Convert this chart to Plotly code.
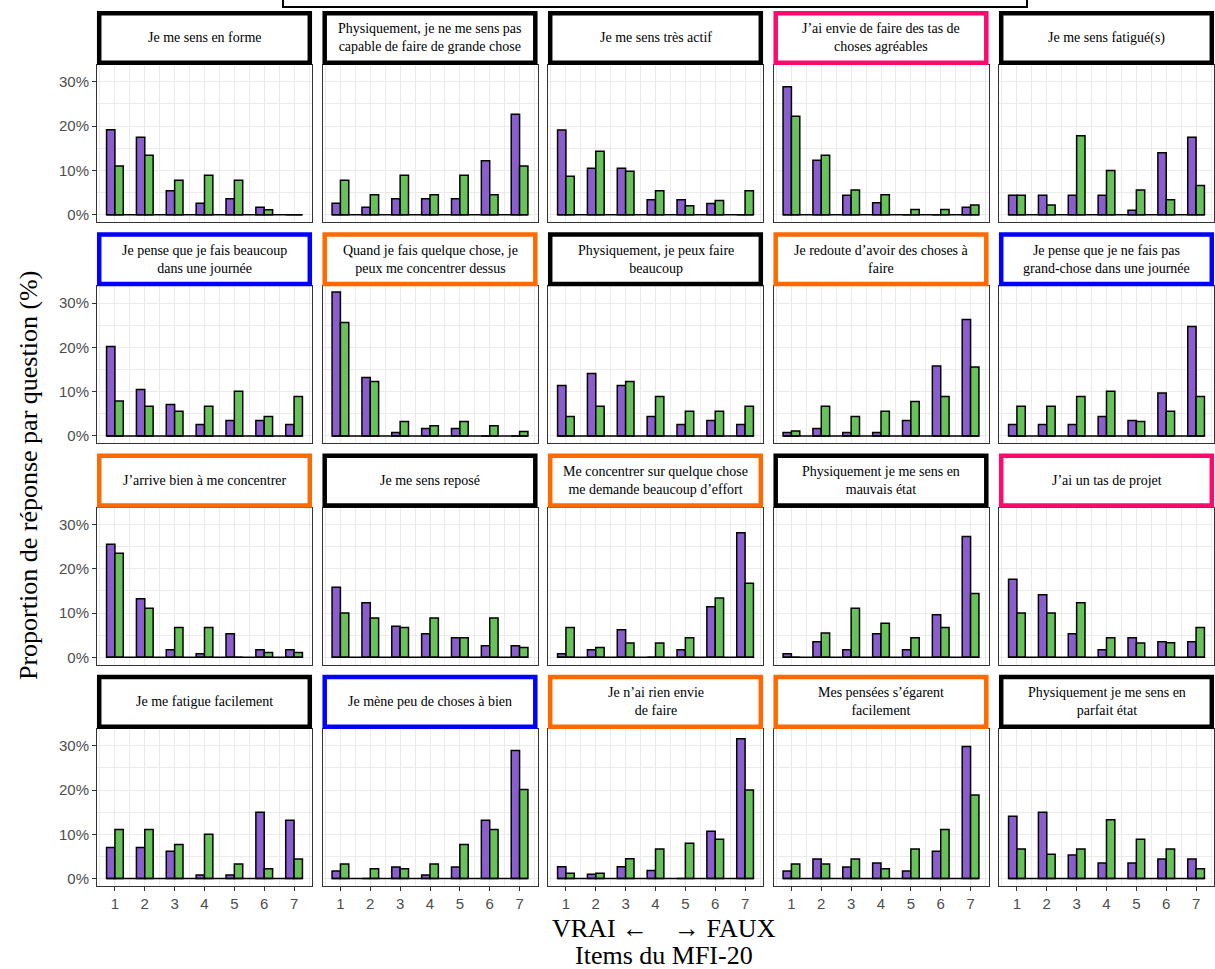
import plotly.graph_objects as go

# ---------------- data ----------------
categories = [1, 2, 3, 4, 5, 6, 7]
y_ticks = [0, 10, 20, 30]

titres = [
    "Je me sens en forme",
    "Physiquement, je ne me sens pas<br>capable de faire de grande chose",
    "Je me sens très actif",
    "J’ai envie de faire des tas de<br>choses agréables",
    "Je me sens fatigué(s)",
    "Je pense que je fais beaucoup<br>dans une journée",
    "Quand je fais quelque chose, je<br>peux me concentrer dessus",
    "Physiquement, je peux faire<br>beaucoup",
    "Je redoute d’avoir des choses à<br>faire",
    "Je pense que je ne fais pas<br>grand-chose dans une journée",
    "J’arrive bien à me concentrer",
    "Je me sens reposé",
    "Me concentrer sur quelque chose<br>me demande beaucoup d’effort",
    "Physiquement je me sens en<br>mauvais état",
    "J’ai un tas de projet",
    "Je me fatigue facilement",
    "Je mène peu de choses à bien",
    "Je n’ai rien envie<br>de faire",
    "Mes pensées s’égarent<br>facilement",
    "Physiquement je me sens en<br>parfait état",
]

NOIR, ROSE, BLEU, ORANGE = "#000000", "#ff0a6c", "#0000ff", "#ff6a00"
cadres = [
    NOIR, NOIR, NOIR, ROSE, NOIR,
    BLEU, ORANGE, NOIR, ORANGE, BLEU,
    ORANGE, NOIR, ORANGE, NOIR, ROSE,
    NOIR, BLEU, ORANGE, ORANGE, NOIR,
]

violet = [
    [19.2, 17.5, 5.4, 2.6, 3.6, 1.7, 0],
    [2.6, 1.7, 3.6, 3.6, 3.6, 12.2, 22.7],
    [19.1, 10.5, 10.5, 3.4, 3.4, 2.5, 0],
    [28.9, 12.3, 4.4, 2.7, 0, 0, 1.7],
    [4.4, 4.4, 4.4, 4.4, 1.0, 14.0, 17.5],
    [20.2, 10.5, 7.1, 2.6, 3.5, 3.5, 2.6],
    [32.5, 13.2, 0.8, 1.7, 1.7, 0, 0],
    [11.4, 14.1, 11.4, 4.4, 2.6, 3.5, 2.6],
    [0.8, 1.7, 0.8, 0.8, 3.5, 15.8, 26.3],
    [2.6, 2.6, 2.6, 4.4, 3.5, 9.7, 24.7],
    [25.5, 13.2, 1.7, 0.8, 5.3, 1.7, 1.7],
    [15.8, 12.3, 7.0, 5.3, 4.4, 2.6, 2.6],
    [0.8, 1.7, 6.2, 0, 1.7, 11.4, 28.1],
    [0.8, 3.5, 1.7, 5.3, 1.7, 9.6, 27.3],
    [17.6, 14.1, 5.3, 1.7, 4.4, 3.5, 3.5],
    [7.0, 7.0, 6.2, 0.8, 0.8, 15.0, 13.2],
    [1.7, 0, 2.6, 0.8, 2.6, 13.2, 28.9],
    [2.7, 1.0, 2.7, 1.8, 0, 10.7, 31.6],
    [1.7, 4.4, 2.6, 3.5, 1.7, 6.2, 29.8],
    [14.1, 15.0, 5.3, 3.5, 3.5, 4.4, 4.4],
]

vert = [
    [11.0, 13.4, 7.8, 8.9, 7.8, 1.1, 0],
    [7.8, 4.5, 8.9, 4.5, 8.9, 4.5, 11.0],
    [8.7, 14.3, 9.8, 5.4, 2.0, 3.2, 5.4],
    [22.2, 13.4, 5.6, 4.5, 1.2, 1.2, 2.2],
    [4.4, 2.2, 17.8, 10.0, 5.6, 3.4, 6.6],
    [7.9, 6.7, 5.6, 6.7, 10.1, 4.4, 8.9],
    [25.6, 12.3, 3.3, 2.3, 3.3, 2.3, 1.0],
    [4.4, 6.7, 12.3, 8.9, 5.6, 5.6, 6.7],
    [1.1, 6.7, 4.4, 5.6, 7.8, 8.9, 15.6],
    [6.7, 6.7, 8.9, 10.1, 3.3, 5.6, 8.9],
    [23.5, 11.1, 6.7, 6.7, 0, 1.1, 1.1],
    [10.0, 8.9, 6.7, 8.9, 4.4, 8.9, 2.2],
    [6.7, 2.2, 3.2, 3.2, 4.4, 13.4, 16.7],
    [0, 5.5, 11.1, 7.7, 4.4, 6.7, 14.4],
    [10.0, 10.0, 12.3, 4.4, 3.2, 3.3, 6.7],
    [11.1, 11.1, 7.7, 10.0, 3.3, 2.2, 4.4],
    [3.3, 2.2, 2.2, 3.3, 7.7, 11.1, 20.1],
    [1.2, 1.2, 4.5, 6.7, 8.0, 8.9, 20.0],
    [3.3, 3.3, 4.4, 2.2, 6.7, 11.1, 18.9],
    [6.7, 5.5, 6.7, 13.3, 8.9, 6.7, 2.2],
]

# ---------------- styling / layout ----------------
W, H = 1215, 969
COL_VIOLET = "#8a5fcd"
COL_VERT = "#68c25a"
SERIF = "Liberation Serif, Times New Roman, serif"
SANS = "Liberation Sans, Arial, sans-serif"

col_left = [97, 322.5, 548, 773.5, 999]
panel_w = 215
row_top = [65, 286.3, 507.6, 728.9]   # plot-area top (px)
panel_h = 157
strip_h = 54
Y_RANGE = [-1.65, 33.8]
X_RANGE = [categories[0] - 0.6, categories[-1] + 0.6]
BAR_HALF = 0.28

x_minor = [c - 0.5 for c in categories] + [categories[-1] + 0.5]
y_minor = [t + 5 for t in y_ticks[:-1]]

fig = go.Figure()
shapes = []
annotations = []

for i in range(len(titres)):
    r, c = divmod(i, 5)
    n = i + 1
    sfx = "" if n == 1 else str(n)
    xl, xr = col_left[c], col_left[c] + panel_w
    yt, yb = row_top[r], row_top[r] + panel_h

    fig.add_trace(go.Bar(
        x=categories, y=violet[i], name="violet",
        marker=dict(color=COL_VIOLET, line=dict(color="black", width=1.5)),
        xaxis="x" + sfx, yaxis="y" + sfx, showlegend=False))
    fig.add_trace(go.Bar(
        x=categories, y=vert[i], name="vert",
        marker=dict(color=COL_VERT, line=dict(color="black", width=1.5)),
        xaxis="x" + sfx, yaxis="y" + sfx, showlegend=False))

    bottom = (r == 3)
    left = (c == 0)
    fig.layout["xaxis" + sfx] = dict(
        domain=[xl / W, xr / W], anchor="y" + sfx, range=X_RANGE,
        tickmode="array", tickvals=categories,
        ticktext=[str(v) for v in categories],
        showticklabels=bottom, ticks="outside" if bottom else "",
        ticklen=4, tickcolor="#333333", tickwidth=1,
        tickfont=dict(family=SANS, size=15, color="#4d4d4d"),
        showline=True, mirror=True, linecolor="#333333", linewidth=1,
        showgrid=True, gridcolor="#ebebeb", gridwidth=1.1, zeroline=False,
        minor=dict(tickmode="array", tickvals=x_minor, showgrid=True,
                   gridcolor="#ebebeb", gridwidth=0.8, ticks=""),
        fixedrange=True)
    fig.layout["yaxis" + sfx] = dict(
        domain=[1 - yb / H, 1 - yt / H], anchor="x" + sfx, range=Y_RANGE,
        tickmode="array", tickvals=y_ticks,
        ticktext=[f"{v}%" for v in y_ticks],
        showticklabels=left, ticks="outside" if left else "",
        ticklen=4, tickcolor="#333333", tickwidth=1,
        tickfont=dict(family=SANS, size=15, color="#4d4d4d"),
        showline=True, mirror=True, linecolor="#333333", linewidth=1,
        showgrid=True, gridcolor="#ebebeb", gridwidth=1.1, zeroline=False,
        minor=dict(tickmode="array", tickvals=y_minor, showgrid=True,
                   gridcolor="#ebebeb", gridwidth=0.8, ticks=""),
        fixedrange=True)

    # black baseline under the bars
    shapes.append(dict(type="line", xref="x" + sfx, yref="y" + sfx,
                       x0=categories[0] - BAR_HALF, x1=categories[-1] + BAR_HALF,
                       y0=0, y1=0, line=dict(color="black", width=1.5),
                       layer="above"))

    # strip box
    st, sb = yt - strip_h, yt
    shapes.append(dict(type="rect", xref="paper", yref="paper",
                       x0=(xl + 2.2) / W, x1=(xr - 2.2) / W,
                       y0=1 - (sb - 2.2) / H, y1=1 - (st + 2.2) / H,
                       line=dict(color=cadres[i], width=4.5),
                       fillcolor="white", layer="above"))
    annotations.append(dict(text=titres[i], xref="paper", yref="paper",
                            x=(xl + xr) / 2 / W, y=1 - (st + sb) / 2 / H,
                            xanchor="center", yanchor="middle", showarrow=False,
                            font=dict(family=SERIF, size=14, color="black")))

# top (cut-off) box
shapes.append(dict(type="rect", xref="paper", yref="paper",
                   x0=283 / W, x1=1027 / W, y0=1 - 7 / H, y1=1 + 20 / H,
                   line=dict(color="black", width=2), fillcolor="rgba(0,0,0,0)"))

# axis titles
annotations.append(dict(text="Proportion de réponse par question (%)",
                        xref="paper", yref="paper", x=28 / W, y=1 - 476 / H,
                        textangle=-90, showarrow=False, xanchor="center",
                        yanchor="middle",
                        font=dict(family=SERIF, size=26, color="black")))
annotations.append(dict(text="VRAI ←\u00a0\u00a0\u00a0\u00a0→ FAUX",
                        xref="paper", yref="paper", x=664 / W, y=1 - 928 / H,
                        showarrow=False, xanchor="center", yanchor="middle",
                        font=dict(family=SERIF, size=26, color="black")))
annotations.append(dict(text="Items du MFI-20",
                        xref="paper", yref="paper", x=664 / W, y=1 - 955 / H,
                        showarrow=False, xanchor="center", yanchor="middle",
                        font=dict(family=SERIF, size=26, color="black")))

fig.update_layout(
    width=W, height=H,
    margin=dict(l=0, r=0, t=0, b=0),
    paper_bgcolor="white", plot_bgcolor="white",
    barmode="group", bargap=0.44, bargroupgap=0,
    showlegend=False,
    shapes=shapes, annotations=annotations,
)

fig.write_html(
    "out.html",
    config={"displayModeBar": False},
    post_script="document.body.style.margin='0';document.body.style.overflow='hidden';",
)
